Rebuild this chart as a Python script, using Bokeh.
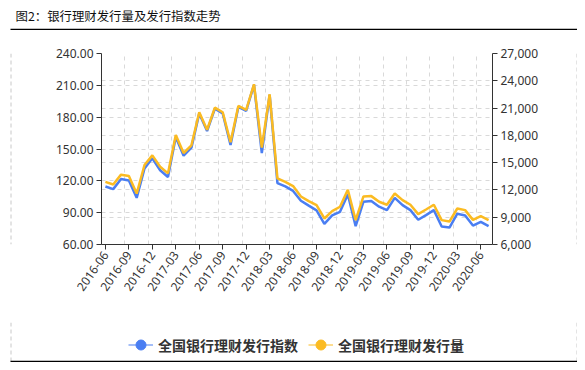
import pandas as pd
from bokeh.plotting import figure
from bokeh.layouts import column, row
from bokeh.models import (Range1d, LinearAxis, FixedTicker, Grid, NumeralTickFormatter,
                          Legend, LegendItem)
from bokeh.core.properties import value
from bokeh.embed import file_html
from bokeh.resources import INLINE

title_text = "图2：银行理财发行量及发行指数走势"
months = [p.strftime("%Y-%m") for p in pd.period_range("2016-06", "2020-07", freq="M")]
index_values = [114.7, 112.2, 121.7, 120.4, 104.0, 131.7, 141.2, 130.0, 123.6, 161.3,
                143.7, 151.3, 183.4, 167.0, 188.0, 183.4, 153.8, 189.6, 185.9, 210.4,
                146.2, 201.0, 117.9, 114.7, 110.5, 101.2, 96.6, 92.2, 79.5, 87.4,
                90.8, 107.2, 77.3, 100.3, 100.9, 95.6, 92.4, 104.0, 97.1, 92.4,
                83.3, 87.7, 92.4, 77.0, 76.0, 89.0, 87.4, 77.9, 81.4, 77.3]
volume_values = [12880, 12600, 13680, 13520, 11600, 14740, 15800, 14550, 13820, 18040,
                 16060, 16910, 20540, 18620, 21050, 20540, 17240, 21240, 20790, 23620,
                 16650, 22520, 13270, 12880, 12420, 11280, 10770, 10330, 8860, 9670,
                 10150, 12020, 8680, 11280, 11320, 10700, 10370, 11610, 10880, 10370,
                 9340, 9850, 10370, 8680, 8530, 9960, 9780, 8710, 9120, 8680]
series_names = ["全国银行理财发行指数", "全国银行理财发行量"]
left_ticks = [60, 90, 120, 150, 180, 210, 240]
right_ticks = [6000, 9000, 12000, 15000, 18000, 21000, 24000, 27000]

BLUE = "#4a7ef2"
ORANGE = "#fbbb22"
DASH_COLOR = "#c8c8c8"
W = 577
HEADER_H, MAIN_H, FOOTER_H = 30, 292, 40
LSTRIP, RSTRIP = 12, 8
NAN = float("nan")


def blank(width, height):
    f = figure(width=width, height=height, output_backend="svg", toolbar_location=None,
               x_range=Range1d(0, width), y_range=Range1d(height, 0),
               x_axis_type=None, y_axis_type=None, min_border=0)
    f.outline_line_color = None
    f.grid.visible = False
    f.background_fill_color = "white"
    f.border_fill_color = "white"
    return f


# ---------- header: title and solid rule ----------
header = blank(W, HEADER_H)
header.text(x=[15], y=[15], text=[title_text], text_font=value("Noto Sans CJK SC"),
            text_font_size="12.4px", text_color="#111111", text_baseline="middle",
            text_align="left")
header.segment(x0=[10], y0=[29], x1=[W], y1=[29], line_color="black", line_width=1.5)

# ---------- side strips (dashed frame edges) ----------
left_strip = blank(LSTRIP, MAIN_H)
left_strip.segment(x0=[10.5], y0=[0], x1=[10.5], y1=[MAIN_H], line_color=DASH_COLOR,
                   line_dash="4 3", line_width=1)
right_strip = blank(RSTRIP, MAIN_H)
right_strip.segment(x0=[7.5], y0=[0], x1=[7.5], y1=[MAIN_H], line_color=DASH_COLOR,
                    line_dash="4 3", line_width=1)

# ---------- main chart ----------
MAIN_W = W - LSTRIP - RSTRIP
x_idx = list(range(len(months)))
tick_positions = list(range(0, len(months), 3))

p = figure(width=MAIN_W, height=MAIN_H, output_backend="svg", toolbar_location=None,
           x_range=Range1d(-0.5, len(months) - 0.5),
           y_range=Range1d(left_ticks[0], left_ticks[-1]),
           min_border_left=89, min_border_right=MAIN_W - 89 - 391,
           min_border_top=23, min_border_bottom=MAIN_H - 23 - 191)
p.outline_line_color = None
p.background_fill_color = "white"
p.border_fill_color = "white"
p.extra_y_ranges = {"vol": Range1d(right_ticks[0], right_ticks[-1])}

right_axis = LinearAxis(y_range_name="vol", ticker=FixedTicker(ticks=right_ticks),
                        formatter=NumeralTickFormatter(format="0,0"))
p.add_layout(right_axis, "right")

for ax in [p.xaxis[0], p.yaxis[0], right_axis]:
    ax.axis_line_color = "#333333"
    ax.major_tick_line_color = "#333333"
    ax.minor_tick_line_color = None
    ax.major_tick_in = 0
    ax.major_tick_out = 5
    ax.major_label_standoff = 3
    ax.major_label_text_font = "Noto Sans"
    ax.major_label_text_font_size = "12px"
    ax.major_label_text_color = "#333333"

p.yaxis[0].ticker = FixedTicker(ticks=left_ticks)
p.yaxis[0].formatter = NumeralTickFormatter(format="0.00")
p.xaxis[0].ticker = FixedTicker(ticks=tick_positions)
p.xaxis[0].major_label_overrides = {i: months[i] for i in tick_positions}
p.xaxis[0].major_label_orientation = 0.96

grid_color = "#d9d9d9"
p.xgrid.ticker = FixedTicker(ticks=[t - 0.5 for t in tick_positions[1:]])
p.ygrid.ticker = FixedTicker(ticks=left_ticks)
for g in [p.xgrid[0], p.ygrid[0]]:
    g.grid_line_color = grid_color
    g.grid_line_dash = "4 4"
    g.grid_line_width = 1
rgrid = Grid(dimension=1, ticker=FixedTicker(ticks=right_ticks), y_range_name="vol",
             grid_line_color=grid_color, grid_line_dash="4 4", grid_line_width=1)
p.add_layout(rgrid)

p.line(x_idx, index_values, line_color=BLUE, line_width=2.5)
p.line(x_idx, volume_values, line_color=ORANGE, line_width=2.5, y_range_name="vol")

# ---------- footer: legend, dashed edges and bottom rule ----------
footer = blank(W, FOOTER_H)
footer.segment(x0=[10.5, W - 0.5], y0=[0, 0], x1=[10.5, W - 0.5], y1=[FOOTER_H, FOOTER_H],
               line_color=DASH_COLOR, line_dash="4 3", line_width=1)
footer.segment(x0=[10], y0=[FOOTER_H - 1], x1=[W], y1=[FOOTER_H - 1],
               line_color="black", line_width=1.5)
# legend-only renderers (NaN data: nothing drawn in the plot area)
lb = footer.line(x=[NAN, NAN], y=[NAN, NAN], line_color=BLUE, line_width=2, line_alpha=0.5)
sb = footer.scatter(x=[NAN], y=[NAN], size=10, fill_color=BLUE, line_color=BLUE)
lo = footer.line(x=[NAN, NAN], y=[NAN, NAN], line_color=ORANGE, line_width=2, line_alpha=0.5)
so = footer.scatter(x=[NAN], y=[NAN], size=10, fill_color=ORANGE, line_color=ORANGE)
legend = Legend(items=[LegendItem(label=series_names[0], renderers=[lb, sb]),
                       LegendItem(label=series_names[1], renderers=[lo, so])],
                location=(128, 5), orientation="horizontal",
                glyph_width=25, glyph_height=25, label_standoff=5, spacing=10,
                padding=0, margin=0, border_line_color=None, background_fill_alpha=0,
                label_text_font="Noto Sans CJK SC", label_text_font_style="bold",
                label_text_font_size="14px", label_text_color="#333333")
footer.add_layout(legend)

layout = column(header, row(left_strip, p, right_strip), footer)
open("out.html", "w").write(file_html(layout, INLINE))
